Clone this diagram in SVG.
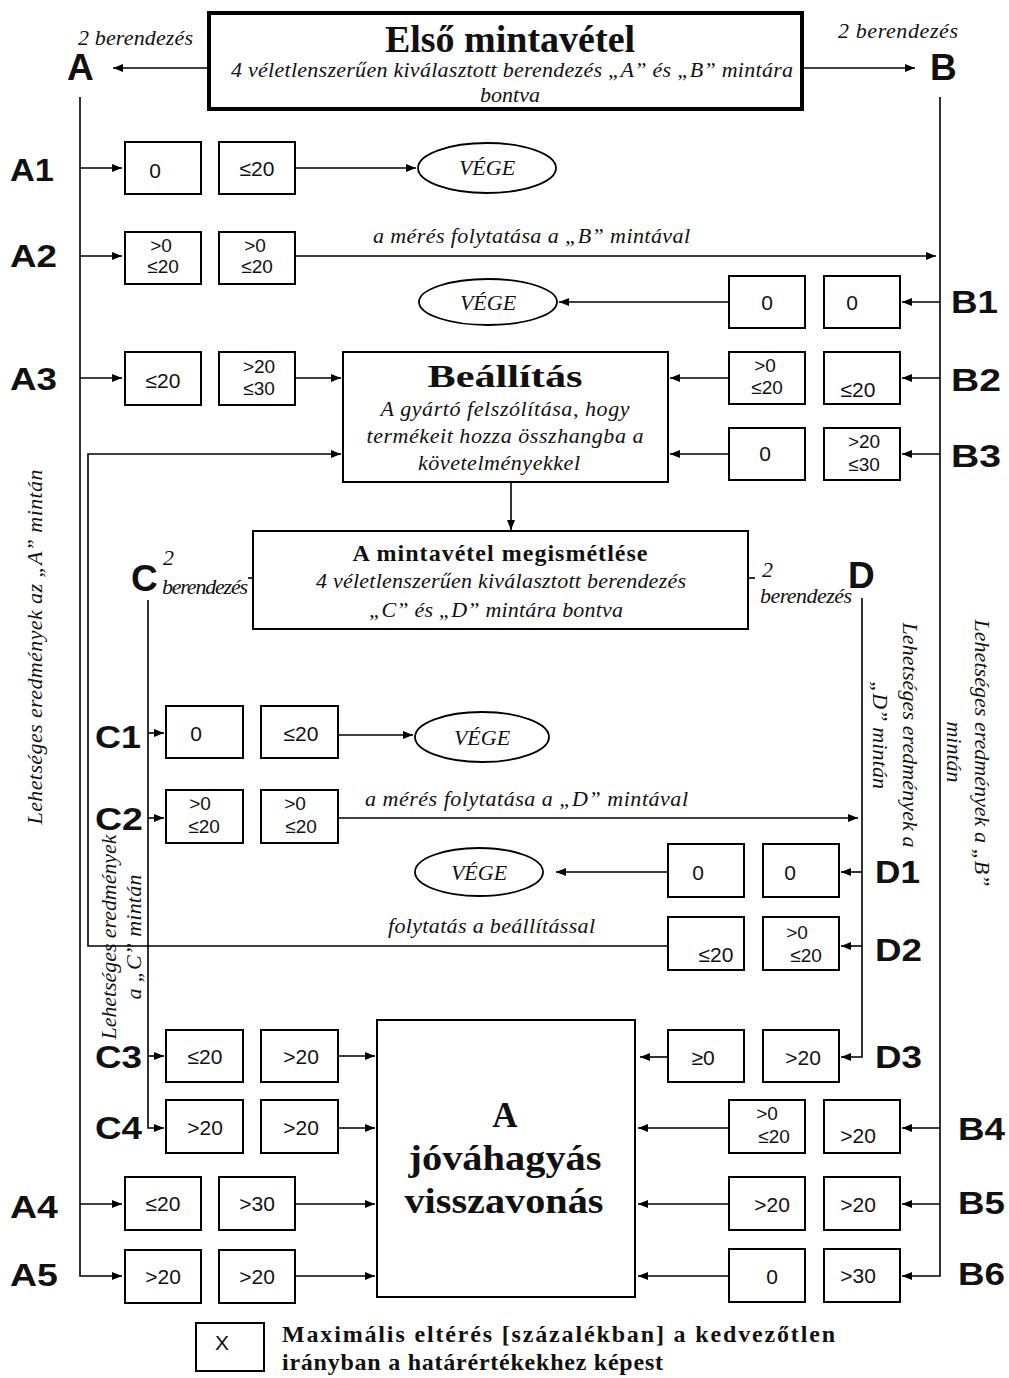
<svg xmlns="http://www.w3.org/2000/svg" width="1009" height="1378" viewBox="0 0 1009 1378">
<defs>
<marker id="ah" markerWidth="10" markerHeight="8" refX="10" refY="4" orient="auto" markerUnits="userSpaceOnUse"><path d="M0,0 L10,4 L0,8 z" fill="#000"/></marker>
<style>
.box{fill:#fff;stroke:#000;stroke-width:2}
.num{font-family:"Liberation Sans",Arial,sans-serif;font-size:21px;text-anchor:middle;fill:#111}
.n2{font-family:"Liberation Sans",Arial,sans-serif;font-size:19px;text-anchor:middle;fill:#111}
.lbl{font-family:"Liberation Sans",Arial,sans-serif;font-weight:bold;font-size:31px;fill:#111}
.big{font-family:"Liberation Sans",Arial,sans-serif;font-weight:bold;font-size:37px;fill:#111}
.it{font-family:"Liberation Serif","Times New Roman",serif;font-style:italic;font-size:22px;fill:#111}
.itc{font-family:"Liberation Serif","Times New Roman",serif;font-style:italic;font-size:22px;fill:#111;text-anchor:middle}
.bt{font-family:"Liberation Serif","Times New Roman",serif;font-weight:bold;fill:#111;text-anchor:middle}
.bl{font-family:"Liberation Serif","Times New Roman",serif;font-weight:bold;font-size:24px;fill:#111}
.conn{stroke:#000;stroke-width:1.6;fill:none}
.ell{fill:#fff;stroke:#000;stroke-width:1.8}
</style>
</defs>
<rect width="1009" height="1378" fill="#fff"/>

<g id="connectors">
<path class="conn" d="M208,68 H113" marker-end="url(#ah)"/>
<path class="conn" d="M803,68 H915" marker-end="url(#ah)"/>
<path class="conn" d="M80,97 V1276 H122" marker-end="url(#ah)"/>
<path class="conn" d="M940,97 V1276 H902" marker-end="url(#ah)"/>
<path class="conn" d="M80,168 H122" marker-end="url(#ah)"/>
<path class="conn" d="M295,168 H416" marker-end="url(#ah)"/>
<path class="conn" d="M80,256 H122" marker-end="url(#ah)"/>
<path class="conn" d="M295,256 H936" marker-end="url(#ah)"/>
<path class="conn" d="M80,378 H122" marker-end="url(#ah)"/>
<path class="conn" d="M295,378 H341" marker-end="url(#ah)"/>
<path class="conn" d="M80,1204 H122" marker-end="url(#ah)"/>
<path class="conn" d="M295,1204 H375" marker-end="url(#ah)"/>
<path class="conn" d="M295,1276 H375" marker-end="url(#ah)"/>
<path class="conn" d="M940,302 H902" marker-end="url(#ah)"/>
<path class="conn" d="M729,302 H559" marker-end="url(#ah)"/>
<path class="conn" d="M940,378 H902" marker-end="url(#ah)"/>
<path class="conn" d="M729,378 H670" marker-end="url(#ah)"/>
<path class="conn" d="M940,454 H902" marker-end="url(#ah)"/>
<path class="conn" d="M729,454 H670" marker-end="url(#ah)"/>
<path class="conn" d="M940,1128 H902" marker-end="url(#ah)"/>
<path class="conn" d="M729,1128 H638" marker-end="url(#ah)"/>
<path class="conn" d="M940,1204 H902" marker-end="url(#ah)"/>
<path class="conn" d="M729,1204 H638" marker-end="url(#ah)"/>
<path class="conn" d="M729,1276 H638" marker-end="url(#ah)"/>
<path class="conn" d="M511,482 V530" marker-end="url(#ah)"/>
<path class="conn" d="M668,946 H88 V454 H341" marker-end="url(#ah)"/>
<path class="conn" d="M148,600 V1128 H164" marker-end="url(#ah)"/>
<path class="conn" d="M148,733 H164" marker-end="url(#ah)"/>
<path class="conn" d="M338,735 H413" marker-end="url(#ah)"/>
<path class="conn" d="M148,818 H164" marker-end="url(#ah)"/>
<path class="conn" d="M338,818 H858" marker-end="url(#ah)"/>
<path class="conn" d="M148,1056 H164" marker-end="url(#ah)"/>
<path class="conn" d="M338,1056 H375" marker-end="url(#ah)"/>
<path class="conn" d="M338,1128 H375" marker-end="url(#ah)"/>
<path class="conn" d="M862,598 V1057 H841" marker-end="url(#ah)"/>
<path class="conn" d="M862,872 H841" marker-end="url(#ah)"/>
<path class="conn" d="M668,872 H556" marker-end="url(#ah)"/>
<path class="conn" d="M862,946 H841" marker-end="url(#ah)"/>
<path class="conn" d="M668,1057 H640" marker-end="url(#ah)"/>
<path class="conn" d="M248,578 H253"/>
<path class="conn" d="M748,578 H755"/>
</g>

<g id="first-sampling">
<rect x="209" y="13" width="593" height="96" fill="#fff" stroke="#000" stroke-width="4"/>
<text class="bt" x="510" y="52" font-size="38">Első mintavétel</text>
<text class="it" x="231" y="77" textLength="562" lengthAdjust="spacing">4 véletlenszerűen kiválasztott berendezés „A” és „B” mintára</text>
<text class="itc" x="510" y="102">bontva</text>
</g>

<g id="sample-A">
<text class="it" x="78" y="45" font-size="20" textLength="115" lengthAdjust="spacing">2 berendezés</text>
<text class="big" x="67" y="80">A</text>
</g>
<g id="sample-B">
<text class="it" x="838" y="38" font-size="20" textLength="120" lengthAdjust="spacing">2 berendezés</text>
<text class="big" x="930" y="80">B</text>
</g>

<g id="A1">
<text class="lbl" x="10" y="181" textLength="44" lengthAdjust="spacingAndGlyphs">A1</text>
<rect class="box" x="125" y="142" width="76" height="52"/><text class="num" x="155" y="178">0</text>
<rect class="box" x="219" y="142" width="76" height="52"/><text class="num" x="257" y="176">≤20</text>
</g>
<g id="vege-1"><ellipse class="ell" cx="487" cy="168" rx="69" ry="25"/><text class="itc" x="487" y="175" font-size="22">VÉGE</text></g>

<g id="A2">
<text class="lbl" x="10" y="267" textLength="47" lengthAdjust="spacingAndGlyphs">A2</text>
<rect class="box" x="125" y="232" width="76" height="52"/><text class="n2" x="161" y="252">&gt;0</text><text class="n2" x="163" y="273">≤20</text>
<rect class="box" x="219" y="232" width="76" height="52"/><text class="n2" x="255" y="252">&gt;0</text><text class="n2" x="257" y="273">≤20</text>
<text class="it" x="373" y="243" textLength="317" lengthAdjust="spacing">a mérés folytatása a „B” mintával</text>
</g>

<g id="B1">
<text class="lbl" x="951" y="313" textLength="47" lengthAdjust="spacingAndGlyphs">B1</text>
<rect class="box" x="729" y="276" width="76" height="52"/><text class="num" x="767" y="310">0</text>
<rect class="box" x="824" y="276" width="76" height="52"/><text class="num" x="852" y="310">0</text>
</g>
<g id="vege-2"><ellipse class="ell" cx="488" cy="302" rx="69" ry="23"/><text class="itc" x="488" y="310" font-size="22">VÉGE</text></g>

<g id="A3">
<text class="lbl" x="10" y="390" textLength="47" lengthAdjust="spacingAndGlyphs">A3</text>
<rect class="box" x="125" y="352" width="76" height="53"/><text class="num" x="163" y="388">≤20</text>
<rect class="box" x="219" y="352" width="76" height="53"/><text class="n2" x="259" y="373">&gt;20</text><text class="n2" x="259" y="395">≤30</text>
</g>

<g id="adjustment">
<rect class="box" x="343" y="352" width="325" height="130"/>
<text class="bt" x="505" y="387" font-size="31" textLength="155" lengthAdjust="spacingAndGlyphs">Beállítás</text>
<text class="itc" x="505" y="416" textLength="249" lengthAdjust="spacing">A gyártó felszólítása, hogy</text>
<text class="itc" x="505" y="443" textLength="277" lengthAdjust="spacing">termékeit hozza összhangba a</text>
<text class="itc" x="499" y="470" textLength="162" lengthAdjust="spacing">követelményekkel</text>
</g>

<g id="B2">
<text class="lbl" x="951" y="391" textLength="50" lengthAdjust="spacingAndGlyphs">B2</text>
<rect class="box" x="729" y="352" width="76" height="52"/><text class="n2" x="765" y="372">&gt;0</text><text class="n2" x="767" y="394">≤20</text>
<rect class="box" x="824" y="352" width="76" height="52"/><text class="num" x="858" y="397">≤20</text>
</g>
<g id="B3">
<text class="lbl" x="951" y="467" textLength="50" lengthAdjust="spacingAndGlyphs">B3</text>
<rect class="box" x="729" y="428" width="76" height="52"/><text class="num" x="765" y="461">0</text>
<rect class="box" x="824" y="428" width="76" height="52"/><text class="n2" x="864" y="448">&gt;20</text><text class="n2" x="864" y="471">≤30</text>
</g>

<g id="repeat-sampling">
<rect class="box" x="253" y="531" width="495" height="98"/>
<text class="bt" x="500" y="561" font-size="24" textLength="295" lengthAdjust="spacing">A mintavétel megismétlése</text>
<text class="itc" x="501" y="588" textLength="370" lengthAdjust="spacing">4 véletlenszerűen kiválasztott berendezés</text>
<text class="itc" x="496" y="617" textLength="254" lengthAdjust="spacing">„C” és „D” mintára bontva</text>
</g>

<g id="sample-C">
<text class="big" x="131" y="591" font-size="34">C</text>
<text class="it" x="163" y="565" font-size="20">2</text>
<text class="it" x="162" y="594" font-size="20" textLength="86" lengthAdjust="spacing">berendezés</text>
</g>
<g id="sample-D">
<text class="big" x="848" y="588" font-size="34">D</text>
<text class="it" x="762" y="577" font-size="20">2</text>
<text class="it" x="760" y="603" font-size="20" textLength="92" lengthAdjust="spacing">berendezés</text>
</g>

<g id="C1">
<text class="lbl" x="95" y="748" textLength="46" lengthAdjust="spacingAndGlyphs">C1</text>
<rect class="box" x="166" y="706" width="77" height="52"/><text class="num" x="196" y="741">0</text>
<rect class="box" x="261" y="706" width="77" height="52"/><text class="num" x="301" y="741">≤20</text>
</g>
<g id="vege-3"><ellipse class="ell" cx="482" cy="737" rx="67" ry="25"/><text class="itc" x="482" y="745" font-size="22">VÉGE</text></g>

<g id="C2">
<text class="lbl" x="95" y="830" textLength="48" lengthAdjust="spacingAndGlyphs">C2</text>
<rect class="box" x="166" y="790" width="77" height="53"/><text class="n2" x="200" y="810">&gt;0</text><text class="n2" x="204" y="833">≤20</text>
<rect class="box" x="261" y="790" width="77" height="53"/><text class="n2" x="295" y="810">&gt;0</text><text class="n2" x="301" y="833">≤20</text>
<text class="it" x="365" y="806" textLength="323" lengthAdjust="spacing">a mérés folytatása a „D” mintával</text>
</g>

<g id="D1">
<text class="lbl" x="875" y="883" textLength="45" lengthAdjust="spacingAndGlyphs">D1</text>
<rect class="box" x="668" y="844" width="76" height="53"/><text class="num" x="698" y="880">0</text>
<rect class="box" x="763" y="844" width="76" height="53"/><text class="num" x="790" y="880">0</text>
</g>
<g id="vege-4"><ellipse class="ell" cx="479" cy="872" rx="64" ry="24"/><text class="itc" x="479" y="880" font-size="22">VÉGE</text></g>

<g id="D2">
<text class="lbl" x="875" y="961" textLength="47" lengthAdjust="spacingAndGlyphs">D2</text>
<rect class="box" x="668" y="917" width="76" height="53"/><text class="num" x="716" y="962">≤20</text>
<rect class="box" x="763" y="917" width="76" height="53"/><text class="n2" x="797" y="939">&gt;0</text><text class="n2" x="806" y="962">≤20</text>
<text class="it" x="388" y="933" textLength="207" lengthAdjust="spacing">folytatás a beállítással</text>
</g>

<g id="withdrawal">
<rect class="box" x="377" y="1020" width="258" height="277"/>
<text class="bt" x="505" y="1127" font-size="35">A</text>
<text class="bt" x="505" y="1170" font-size="35" textLength="193" lengthAdjust="spacingAndGlyphs">jóváhagyás</text>
<text class="bt" x="504" y="1213" font-size="35" textLength="199" lengthAdjust="spacingAndGlyphs">visszavonás</text>
</g>

<g id="C3">
<text class="lbl" x="95" y="1068" textLength="47" lengthAdjust="spacingAndGlyphs">C3</text>
<rect class="box" x="166" y="1030" width="77" height="52"/><text class="num" x="205" y="1064">≤20</text>
<rect class="box" x="261" y="1030" width="77" height="52"/><text class="num" x="301" y="1064">&gt;20</text>
</g>
<g id="D3">
<text class="lbl" x="875" y="1068" textLength="47" lengthAdjust="spacingAndGlyphs">D3</text>
<rect class="box" x="668" y="1030" width="76" height="52"/><text class="num" x="703" y="1065">≥0</text>
<rect class="box" x="763" y="1030" width="76" height="52"/><text class="num" x="803" y="1065">&gt;20</text>
</g>
<g id="C4">
<text class="lbl" x="95" y="1139" textLength="47" lengthAdjust="spacingAndGlyphs">C4</text>
<rect class="box" x="166" y="1100" width="77" height="53"/><text class="num" x="205" y="1135">&gt;20</text>
<rect class="box" x="261" y="1100" width="77" height="53"/><text class="num" x="301" y="1135">&gt;20</text>
</g>
<g id="B4">
<text class="lbl" x="958" y="1140" textLength="47" lengthAdjust="spacingAndGlyphs">B4</text>
<rect class="box" x="729" y="1100" width="76" height="53"/><text class="n2" x="767" y="1120">&gt;0</text><text class="n2" x="774" y="1143">≤20</text>
<rect class="box" x="824" y="1100" width="76" height="53"/><text class="num" x="858" y="1143">&gt;20</text>
</g>
<g id="A4">
<text class="lbl" x="10" y="1218" textLength="48" lengthAdjust="spacingAndGlyphs">A4</text>
<rect class="box" x="125" y="1177" width="76" height="53"/><text class="num" x="163" y="1211">≤20</text>
<rect class="box" x="219" y="1177" width="76" height="53"/><text class="num" x="257" y="1211">&gt;30</text>
</g>
<g id="B5">
<text class="lbl" x="958" y="1214" textLength="47" lengthAdjust="spacingAndGlyphs">B5</text>
<rect class="box" x="729" y="1177" width="76" height="53"/><text class="num" x="772" y="1212">&gt;20</text>
<rect class="box" x="824" y="1177" width="76" height="53"/><text class="num" x="858" y="1212">&gt;20</text>
</g>
<g id="A5">
<text class="lbl" x="10" y="1286" textLength="48" lengthAdjust="spacingAndGlyphs">A5</text>
<rect class="box" x="125" y="1250" width="76" height="53"/><text class="num" x="163" y="1284">&gt;20</text>
<rect class="box" x="219" y="1250" width="76" height="53"/><text class="num" x="257" y="1284">&gt;20</text>
</g>
<g id="B6">
<text class="lbl" x="958" y="1285" textLength="47" lengthAdjust="spacingAndGlyphs">B6</text>
<rect class="box" x="729" y="1249" width="76" height="53"/><text class="num" x="772" y="1284">0</text>
<rect class="box" x="824" y="1249" width="76" height="53"/><text class="num" x="858" y="1283">&gt;30</text>
</g>

<g id="side-labels">
<text class="itc" transform="translate(42,647) rotate(-90)" textLength="355" lengthAdjust="spacing">Lehetséges eredmények az „A” mintán</text>
<text class="itc" transform="translate(116,937) rotate(-90)" textLength="205" lengthAdjust="spacing">Lehetséges eredmények</text>
<text class="itc" transform="translate(141,937) rotate(-90)" textLength="125" lengthAdjust="spacing">a „C” mintán</text>
<text class="itc" transform="translate(903,735) rotate(90)" textLength="225" lengthAdjust="spacing">Lehetséges eredmények a</text>
<text class="itc" transform="translate(873,735) rotate(90)" textLength="108" lengthAdjust="spacing">„D” mintán</text>
<text class="itc" transform="translate(975,753) rotate(90)" textLength="267" lengthAdjust="spacing">Lehetséges eredmények a „B”</text>
<text class="itc" transform="translate(947,752) rotate(90)">mintán</text>
</g>

<g id="legend">
<rect class="box" x="196" y="1323" width="68" height="48" stroke-width="1.6"/>
<text class="num" x="222" y="1350" font-size="19">X</text>
<text class="bl" x="282" y="1342" textLength="553" lengthAdjust="spacing">Maximális eltérés [százalékban] a kedvezőtlen</text>
<text class="bl" x="282" y="1370" textLength="381" lengthAdjust="spacing">irányban a határértékekhez képest</text>
</g>
</svg>
